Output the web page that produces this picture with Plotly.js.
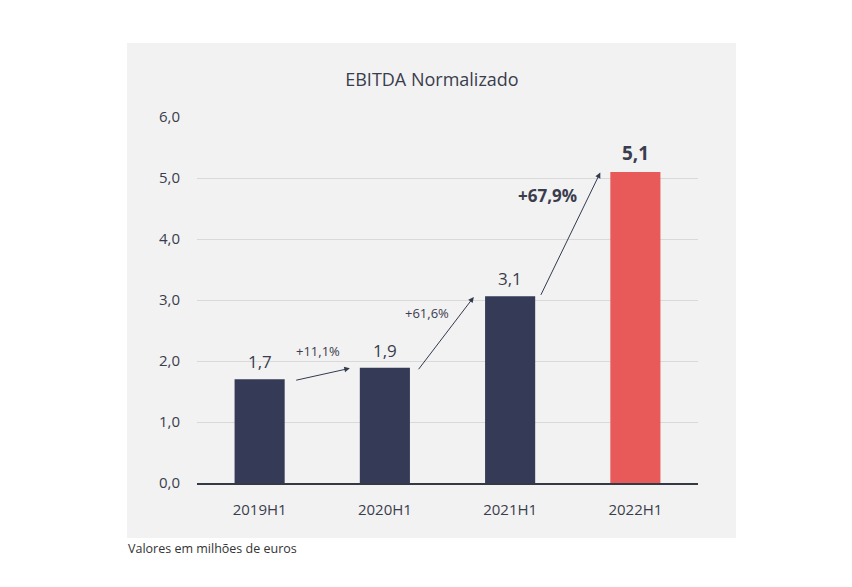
<!DOCTYPE html>
<html>
<head>
<meta charset="utf-8">
<script src="https://cdn.plot.ly/plotly-3.0.1.min.js"></script>
<style>html,body{margin:0;padding:0;background:#fff;}#chart{width:852px;height:587px;}</style>
</head>
<body>
<div id="chart"></div>
<script>
const categories = ["2019H1", "2020H1", "2021H1", "2022H1"];
const values = [1.7, 1.89, 3.06, 5.1];
const growthLabels = ["+11,1%", "+61,6%", "+67,9%"];
const yTickValues = [0, 1, 2, 3, 4, 5, 6];
const yTickLabels = ["0,0", "1,0", "2,0", "3,0", "4,0", "5,0", "6,0"];
const valueLabels = ["1,7", "1,9", "3,1", "5,1"];

const NAVY = "#353a56";
const RED = "#e85a5a";
const TXT = "#3a3d4d";
const FONT = "Open Sans, Lato, sans-serif";

const trace = {
  type: "bar",
  x: categories.map((c, i) => i),
  y: values,
  width: 0.4,
  marker: { color: values.map((v, i) => i === values.length - 1 ? RED : NAVY) },
  hoverinfo: "skip"
};

const annotations = [];
// value labels
values.forEach((v, i) => {
  const last = i === values.length - 1;
  annotations.push({
    x: i, y: v, xref: "x", yref: "y",
    text: last ? "<b>" + valueLabels[i] + "</b>" : valueLabels[i],
    showarrow: false, yanchor: "bottom", yshift: 4,
    font: { family: FONT, size: last ? 19 : 17, color: TXT }
  });
});
// growth arrows
const tailDx = [0.28, 0.26, 0.24];
const tailDy = [-0.02, -0.05, 0.0];
const headDx = [0.72, 0.71, 0.72];
values.slice(0, -1).forEach((v, i) => {
  annotations.push({
    x: i + headDx[i], y: values[i + 1] - 0.01, xref: "x", yref: "y",
    ax: i + tailDx[i], ay: v + tailDy[i], axref: "x", ayref: "y",
    text: "", showarrow: true, arrowhead: 2, arrowsize: 1.1, arrowwidth: 1,
    arrowcolor: "#333a50", standoff: 0, startstandoff: 0
  });
});
// growth labels
const labelPos = [[0.47, 2.16], [1.34, 2.79], [2.3, 4.72]];
growthLabels.forEach((t, i) => {
  const last = i === growthLabels.length - 1;
  annotations.push({
    x: labelPos[i][0], y: labelPos[i][1], xref: "x", yref: "y",
    text: last ? "<b>" + t + "</b>" : t, showarrow: false,
    font: { family: FONT, size: last ? 17 : 13, color: TXT }
  });
});
// footnote
annotations.push({
  x: -0.1417, y: -0.18, xref: "paper", yref: "paper",
  xanchor: "left", yanchor: "middle", showarrow: false,
  text: "Valores em milhões de euros",
  font: { family: FONT, size: 12.5, color: "#333" }
});

const layout = {
  width: 852, height: 587,
  margin: { l: 197, r: 154, t: 117, b: 104 },
  paper_bgcolor: "#ffffff",
  plot_bgcolor: "rgba(0,0,0,0)",
  showlegend: false,
  title: {
    text: "EBITDA Normalizado",
    x: 0.469, xref: "paper", xanchor: "center",
    y: 1 - 80 / 587, yref: "container", yanchor: "middle",
    font: { family: FONT, size: 18, color: TXT }
  },
  xaxis: {
    tickmode: "array", tickvals: categories.map((c, i) => i), ticktext: categories,
    range: [-0.5, 3.5], showgrid: false, zeroline: false,
    showline: true, linecolor: "#333a45", linewidth: 1.5,
    ticks: "", ticklabelstandoff: 12,
    tickfont: { family: FONT, size: 15, color: TXT },
    fixedrange: true
  },
  yaxis: {
    range: [0, 6], tickmode: "array", tickvals: yTickValues, ticktext: yTickLabels,
    showgrid: true, gridcolor: "#d9d9d9", gridwidth: 1,
    zeroline: false, showline: false, ticks: "", ticklabelstandoff: 16,
    tickfont: { family: FONT, size: 15, color: TXT },
    fixedrange: true
  },
  shapes: [{
    type: "rect", xref: "paper", yref: "paper",
    x0: -0.1397, x1: 1.0758, y0: -0.1503, y1: 1.2022,
    fillcolor: "#f2f2f2", line: { width: 0 }, layer: "below"
  }],
  annotations: annotations,
  bargap: 0.6
};

Plotly.newPlot("chart", [trace], layout, { displayModeBar: false, staticPlot: true });
</script>
</body>
</html>
